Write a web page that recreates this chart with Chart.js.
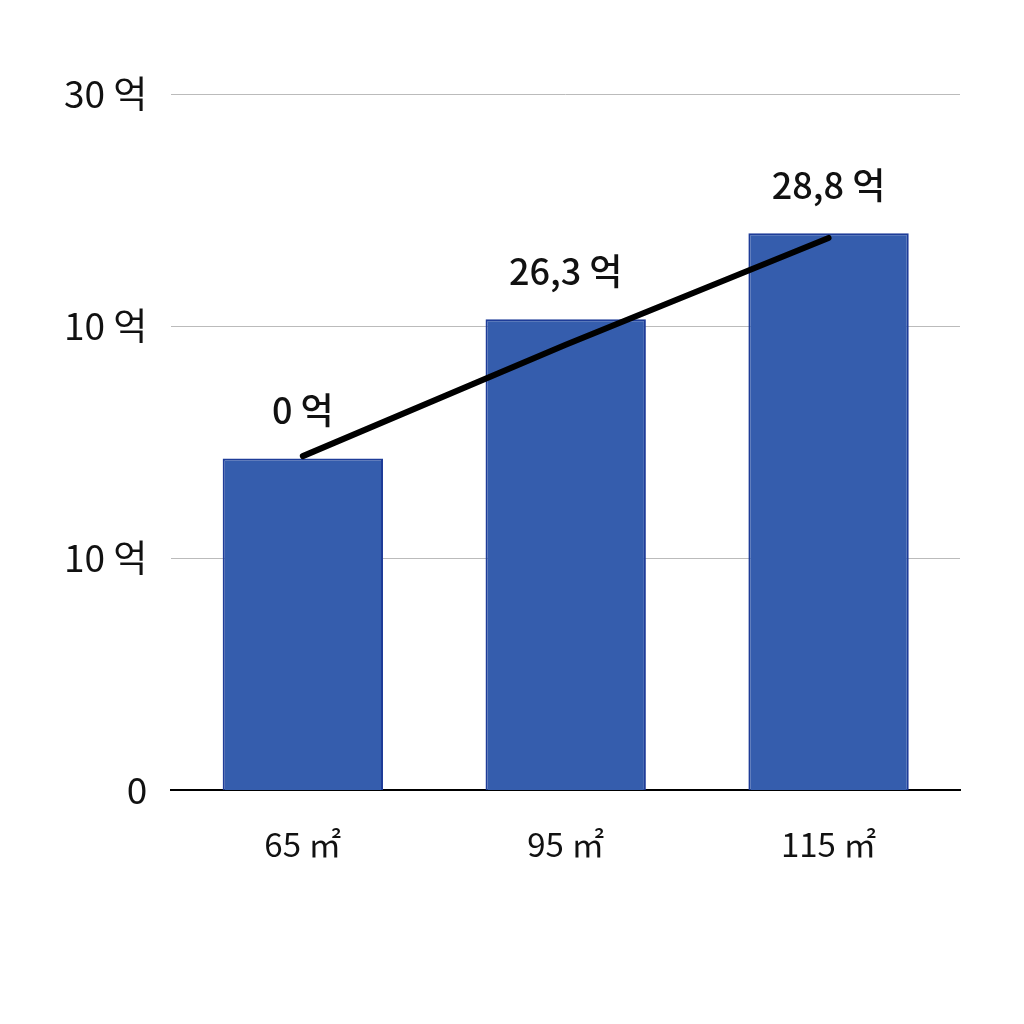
<!DOCTYPE html>
<html><head><meta charset="utf-8">
<script src="https://cdn.jsdelivr.net/npm/chart.js@4/dist/chart.umd.min.js"></script>
<style>html,body{margin:0;background:#fff}#w{width:1024px;height:1024px}</style>
</head><body><div id="w"><canvas id="c"></canvas></div>
<script>
const categories = ["65 ㎡", "95 ㎡", "115 ㎡"];
const barValues = [14.3, 20.3, 24.0];
const lineValues = [14.4, 19.2, 23.8];
const barLabels = ["0 억", "26,3 억", "28,8 억"];
const tickValues = [0, 10, 20, 30];
const tickLabels = ["0", "10 억", "10 억", "30 억"];
const FONT = "'Noto Sans CJK KR','Noto Sans',sans-serif";

const labelPlugin = {
  id: 'lbl',
  afterDatasetsDraw(chart) {
    const ctx = chart.ctx, meta = chart.getDatasetMeta(0);
    ctx.save();
    ctx.font = "500 36px " + FONT;
    ctx.fillStyle = "#111";
    ctx.textAlign = "center"; ctx.textBaseline = "bottom";
    meta.data.forEach((b, i) => ctx.fillText(barLabels[i], b.x, b.y - 30));
    ctx.restore();
  }
};

new Chart(document.getElementById('c'), {
  data: {
    labels: categories,
    datasets: [
      { type: 'bar', data: barValues, backgroundColor: '#355DAD', borderColor: '#1E3C98', borderWidth: 2,
        barPercentage: 0.61, categoryPercentage: 1, order: 2 },
      { type: 'line', data: lineValues, borderColor: '#000', borderWidth: 6, pointRadius: 0,
        borderCapStyle: 'round', order: 1 }
    ]
  },
  options: {
    responsive: true, maintainAspectRatio: false, animation: false,
    layout: { padding: { left: 40, right: 64, top: 94, bottom: 126 } },
    plugins: { legend: { display: false }, tooltip: { enabled: false } },
    scales: {
      x: {
        grid: { display: false, drawTicks: false },
        border: { color: '#000', width: 2 },
        ticks: { color: '#111', font: { family: FONT, size: 33 }, padding: 34 }
      },
      y: {
        min: 0, max: 30,
        afterBuildTicks: s => { s.ticks = tickValues.map(v => ({ value: v })); },
        grid: { color: '#bbb', lineWidth: 1, drawTicks: false },
        border: { display: false },
        ticks: { color: '#111', font: { family: FONT, size: 37 }, padding: 24,
          callback: (v) => tickLabels[tickValues.indexOf(v)] }
      }
    }
  },
  plugins: [labelPlugin]
});
</script></body></html>
